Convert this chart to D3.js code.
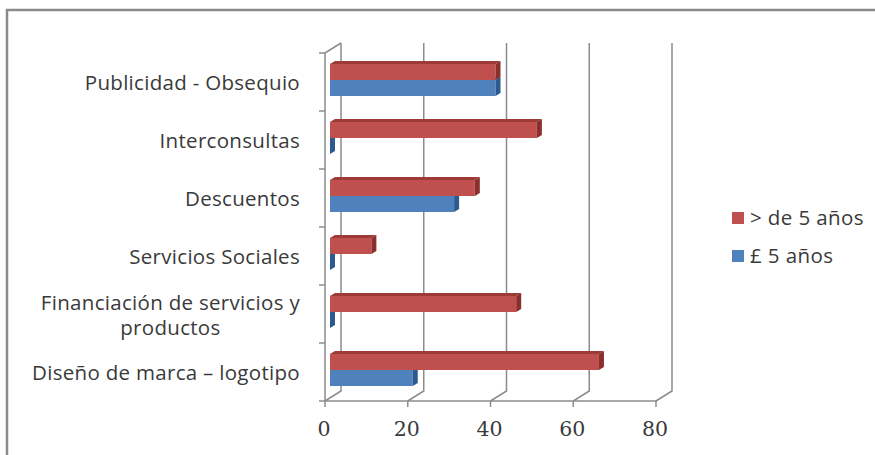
<!DOCTYPE html>
<html>
<head>
<meta charset="utf-8">
<script src="https://cdn.jsdelivr.net/npm/d3@7"></script>
<style>
  body { margin: 0; background: #fff; }
  text { fill: #3a3a3a; }
</style>
</head>
<body>
<div id="chart"></div>
<script>
const categories = [
  ['Publicidad - Obsequio'],
  ['Interconsultas'],
  ['Descuentos'],
  ['Servicios Sociales'],
  ['Financiación de servicios y', 'productos'],
  ['Diseño de marca – logotipo']
];
const seriesNames = ['> de 5 años', '£ 5 años'];
const masDe5 = [40, 50, 35, 10, 45, 65];
const hasta5 = [40, 0, 30, 0, 0, 20];
const ticks = [0, 20, 40, 60, 80];

const width = 875, height = 455;
const svg = d3.select('#chart').append('svg')
  .attr('width', width).attr('height', height);

// frame (only top and left edges show in the picture)
svg.append('path')
  .attr('d', 'M7,455 V10 H875')
  .attr('fill', 'none').attr('stroke', '#8a8a8a').attr('stroke-width', 2.5);

const floorY = 401, topY = 53;
const DX = 16, DY = -10;      // depth of the box
const BDX = 5, BDY = -3;      // depth of a bar

const x = d3.scaleLinear().domain([0, 80]).range([325, 656]);
const xb = d3.scaleLinear().domain([0, 80]).range([330, 661]);
const y = d3.scaleBand().domain(d3.range(categories.length)).range([topY, floorY]);

const grid = svg.append('g').attr('stroke', '#8c8c8c').attr('stroke-width', 1.5).attr('fill', 'none');
ticks.forEach(t => {
  grid.append('path')
    .attr('d', `M${x(t)},${floorY} L${x(t) + DX},${floorY + DY} V${topY + DY}`);
  grid.append('line')
    .attr('x1', x(t)).attr('x2', x(t)).attr('y1', floorY).attr('y2', floorY + 6);
});
grid.append('line').attr('x1', x(0)).attr('x2', x(80)).attr('y1', floorY).attr('y2', floorY);
grid.append('path').attr('d', `M${x(0)},${floorY} V${topY} L${x(0) + DX},${topY + DY}`);
y.domain().concat([categories.length]).forEach(i => {
  const yy = i < categories.length ? y(i) : floorY;
  grid.append('line').attr('x1', x(0) - 6).attr('x2', x(0)).attr('y1', yy).attr('y2', yy);
});

function bar(g, v, y0, y1, cFront, cTop, cSide) {
  const x0 = xb(0), x1 = xb(v);
  g.append('path')
    .attr('d', `M${x0},${y0} L${x0 + BDX},${y0 + BDY} L${x1 + BDX},${y0 + BDY} L${x1},${y0} Z`)
    .attr('fill', cTop);
  g.append('rect')
    .attr('x', x0).attr('y', y0).attr('width', x1 - x0).attr('height', y1 - y0)
    .attr('fill', cFront);
  g.append('path')
    .attr('d', `M${x1},${y0} L${x1 + BDX},${y0 + BDY} L${x1 + BDX},${y1 + BDY} L${x1},${y1} Z`)
    .attr('fill', cSide);
}

const bars = svg.append('g');
categories.forEach((c, i) => {
  const cy = y(i) + y.bandwidth() / 2 - 2;
  bar(bars, hasta5[i], cy, cy + 16, '#4f81bd', '#6a95c8', '#2c5a8f');
  bar(bars, masDe5[i], cy - 16, cy, '#c0504d', '#9b3a37', '#8a2f2c');
});

// category labels
const labels = svg.append('g')
  .attr('font-family', '"Open Sans", sans-serif').attr('font-size', 20.5)
  .attr('letter-spacing', 0.3);
categories.forEach((lines, i) => {
  const cy = y(i) + y.bandwidth() / 2 + 1;
  const t = labels.append('text').attr('text-anchor', 'middle');
  lines.forEach((l, j) => {
    t.append('tspan').attr('dy', j === 0 ? 0 : 25).text(l);
  });
  const w = d3.max(t.selectAll('tspan').nodes(), n => n.getComputedTextLength());
  const cx = 300 - w / 2;
  const y0 = cy - (lines.length - 1) * 12.5 + 7;
  t.attr('y', y0);
  t.selectAll('tspan').attr('x', cx);
});

// x tick labels
svg.append('g')
  .attr('font-family', '"DejaVu Serif", serif').attr('font-size', 20.5)
  .selectAll('text').data(ticks).join('text')
  .attr('x', d => x(d) - 1).attr('y', 436)
  .attr('text-anchor', 'middle')
  .text(d => d);

// legend
const legend = svg.append('g')
  .attr('font-family', '"Open Sans", sans-serif').attr('font-size', 20.5)
  .attr('letter-spacing', 0.4);
const colors = ['#c0504d', '#4f81bd'];
seriesNames.forEach((s, i) => {
  const ly = 218 + i * 38;
  legend.append('rect')
    .attr('x', 732).attr('y', ly - 6).attr('width', 12).attr('height', 12)
    .attr('fill', colors[i]);
  legend.append('text')
    .attr('x', 750).attr('y', ly + 7).text(s);
});
</script>
</body>
</html>
